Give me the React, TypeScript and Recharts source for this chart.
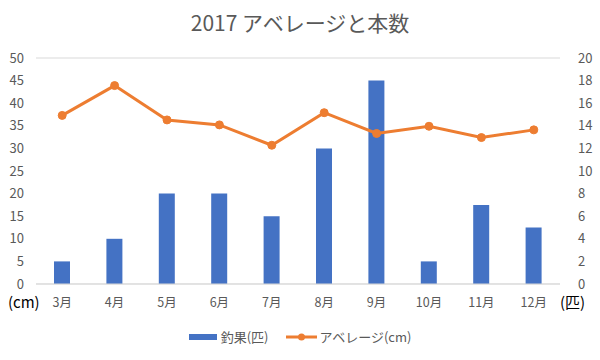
import React from 'react';
import { ComposedChart, Bar, Line, XAxis, YAxis, CartesianGrid, Legend } from 'recharts';

const months = ['3月', '4月', '5月', '6月', '7月', '8月', '9月', '10月', '11月', '12月'];
const catch_ = [2, 4, 8, 8, 6, 12, 18, 2, 7, 5];
const average = [37.3, 43.9, 36.3, 35.2, 30.7, 37.9, 33.3, 34.9, 32.4, 34.1];
const leftTicks = [0, 5, 10, 15, 20, 25, 30, 35, 40, 45, 50];
const rightTicks = [0, 2, 4, 6, 8, 10, 12, 14, 16, 18, 20];

const data = months.map((m, i) => ({ month: m, catch: catch_[i], avg: average[i] }));

const FONT = '"Noto Sans CJK JP", "Noto Sans", sans-serif';
const TXT = '#595959';

const LegendContent = () => (
  <div style={{ display: 'flex', justifyContent: 'center', alignItems: 'center', fontFamily: FONT, fontSize: 13, color: TXT }}>
    <div style={{ display: 'flex', alignItems: 'center', marginRight: 18 }}>
      <svg width={30} height={10}><rect x={0} y={2} width={28} height={6} fill="#4472C4" /></svg>
      <span style={{ marginLeft: 2 }}>釣果(匹)</span>
    </div>
    <div style={{ display: 'flex', alignItems: 'center' }}>
      <svg width={32} height={10}>
        <line x1={0} y1={5} x2={31} y2={5} stroke="#ED7D31" strokeWidth={3} />
        <circle cx={15.5} cy={5} r={3.5} fill="#ED7D31" />
      </svg>
      <span style={{ marginLeft: 1 }}>アベレージ(cm)</span>
    </div>
  </div>
);

export default function App() {
  return (
    <div style={{ position: 'absolute', left: 0, top: 0, width: 600, height: 360, background: '#fff', fontFamily: FONT }}>
      <div style={{ position: 'absolute', top: 7, left: 0, width: 600, textAlign: 'center', fontSize: 21, color: TXT }}>
        2017 アベレージと本数
      </div>
      <div style={{ position: 'absolute', top: 291, left: 8, fontSize: 15, color: '#000' }}>(cm)</div>
      <div style={{ position: 'absolute', top: 291, left: 560, fontSize: 15, color: '#000' }}>(匹)</div>
      <ComposedChart width={600} height={360} data={data} margin={{ top: 58, right: 0, left: 0, bottom: 13 }}>
        <CartesianGrid vertical={false} stroke="#d9d9d9" />
        <XAxis dataKey="month" axisLine={{ stroke: '#d9d9d9' }} tickLine={false} height={44} tickMargin={8}
          tick={{ fill: TXT, fontSize: 12.5, fontFamily: FONT }} interval={0} />
        <YAxis yAxisId="left" orientation="left" domain={[0, 50]} ticks={leftTicks} width={36}
          axisLine={false} tickLine={false} tickMargin={6} tick={{ fill: TXT, fontSize: 13, fontFamily: FONT }} />
        <YAxis yAxisId="right" orientation="right" domain={[0, 20]} ticks={rightTicks} width={40}
          axisLine={false} tickLine={false} tickMargin={12} tick={{ fill: TXT, fontSize: 13, fontFamily: FONT, textAnchor: 'start' }} />
        <Bar yAxisId="right" dataKey="catch" name="釣果(匹)" fill="#4472C4" barSize={16} isAnimationActive={false} />
        <Line yAxisId="left" dataKey="avg" name="アベレージ(cm)" stroke="#ED7D31" strokeWidth={3}
          dot={{ r: 4, fill: '#ED7D31', stroke: '#ED7D31', strokeWidth: 1 }} isAnimationActive={false} />
        <Legend content={<LegendContent />} verticalAlign="bottom" wrapperStyle={{ bottom: 14 }} />
      </ComposedChart>
    </div>
  );
}
